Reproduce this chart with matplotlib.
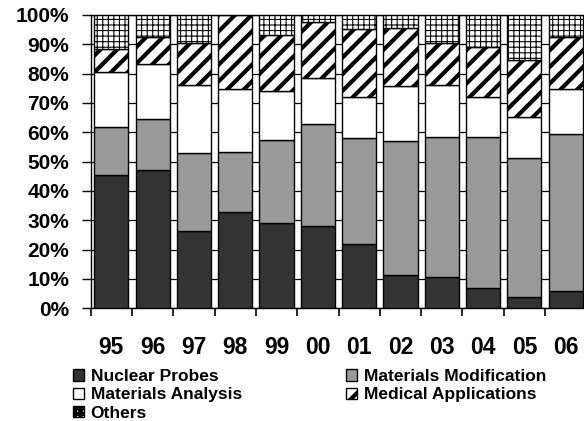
import matplotlib
matplotlib.use("Agg")
import matplotlib.pyplot as plt
import numpy as np

plt.rcParams["font.family"] = ["Liberation Sans", "DejaVu Sans"]
plt.rcParams["font.weight"] = "bold"
plt.rcParams["hatch.linewidth"] = 3.0

# share of each field per year (%)
years = ["95", "96", "97", "98", "99", "00", "01", "02", "03", "04", "05", "06"]
nuclear_probes = [45.6, 47.1, 26.4, 32.8, 29.2, 28.2, 21.8, 11.3, 10.8, 6.8, 4.0, 5.9]
materials_mod = [16.2, 17.4, 26.5, 20.5, 28.1, 34.7, 36.1, 45.7, 47.7, 51.7, 47.4, 53.5]
materials_analysis = [18.9, 18.7, 23.2, 21.3, 16.8, 15.6, 14.2, 18.7, 17.6, 13.6, 13.9, 15.2]
medical_apps = [7.7, 9.4, 14.4, 25.4, 19.0, 19.1, 23.0, 19.7, 14.4, 16.9, 19.2, 18.0]
others = [11.6, 7.4, 9.5, 0.0, 6.9, 2.4, 4.9, 4.6, 9.5, 11.0, 15.5, 7.4]

series = [
    ("Nuclear Probes", nuclear_probes, "#333333", None, 3.0),
    ("Materials Modification", materials_mod, "#999999", None, 3.0),
    ("Materials Analysis", materials_analysis, "white", None, 3.0),
    ("Medical Applications", medical_apps, "white", "//", 3.0),
    ("Others", others, "white", "+++", 0.8),
]

fig = plt.figure(figsize=(5.84, 4.21), dpi=100)
W, H = 584, 421
left, right, top, bottom = 90.7, 586.3, 15.0, 308.3
ax = fig.add_axes([left / W, 1 - bottom / H, (right - left) / W, (bottom - top) / H])

x = np.arange(len(years))
base = np.zeros(len(years))
handles = {}
for name, vals, color, hatch, hlw in series:
    with plt.rc_context({"hatch.linewidth": hlw}):
        bars = ax.bar(x, vals, bottom=base, width=0.83, color=color,
                      edgecolor="black", linewidth=1.0, hatch=hatch, zorder=3, label=name)
    for b in bars:
        if hasattr(b, "set_hatch_linewidth"):
            b.set_hatch_linewidth(hlw)
    handles[name] = bars
    base += np.array(vals)

ax.set_xlim(-0.5, len(years) - 0.5)
ax.set_ylim(0, 100)
ax.set_yticks(np.arange(0, 101, 10))
ax.set_yticklabels([f"{v}%" for v in range(0, 101, 10)], fontsize=15, fontweight="bold")
ax.yaxis.grid(True, color="black", linewidth=0.9, zorder=0)
ax.set_axisbelow(True)

ax.set_xticks(x)
ax.set_xticklabels(years, fontsize=16.5, fontweight="bold")
ax.set_xticks(np.arange(-0.5, len(years)), minor=True)
ax.tick_params(axis="x", which="major", length=0, pad=20)
ax.tick_params(axis="x", which="minor", length=6, width=1.2, direction="out")
ax.tick_params(axis="y", length=6.5, width=1.0, direction="out", pad=9)

for s in ax.spines.values():
    s.set_linewidth(1.0)

order = ["Nuclear Probes", "Materials Analysis", "Others",
         "Materials Modification", "Medical Applications"]
leg = fig.legend([handles[n] for n in order], order, ncol=2,
                 loc="upper left", bbox_to_anchor=(73 / W, 1 - 369 / H),
                 frameon=False, handlelength=0.62, handleheight=0.62,
                 handletextpad=0.4, columnspacing=6.0, labelspacing=0.2,
                 borderpad=0, borderaxespad=0, prop={"weight": "bold", "size": 12.5})

fig.savefig("out.png", dpi=100)
